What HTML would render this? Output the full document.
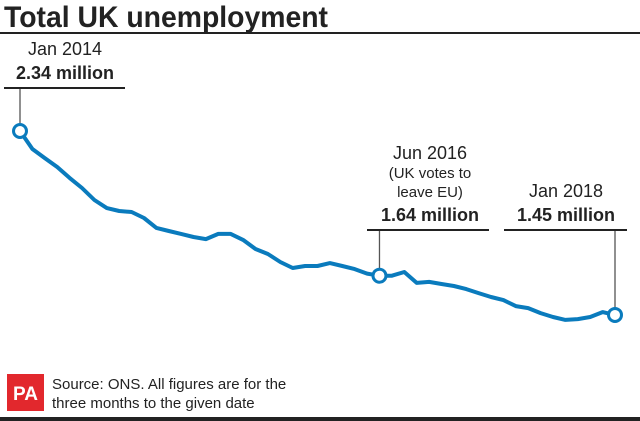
<!DOCTYPE html>
<html><head><meta charset="utf-8"><style>
html,body{margin:0;padding:0;background:#fff;}
svg{display:block;font-family:"Liberation Sans",sans-serif;}
</style></head><body>
<svg width="640" height="421" viewBox="0 0 640 421">
<text x="4" y="27" font-size="30" font-weight="bold" fill="#222" textLength="324" lengthAdjust="spacingAndGlyphs">Total UK unemployment</text>
<rect x="0" y="32" width="640" height="2" fill="#222"/>
<g id="ann" fill="#222" font-size="17" text-anchor="middle"></g>
<path id="line" fill="none" stroke="#0a7bbd" stroke-width="4" stroke-linejoin="round"/>
<g id="pts"></g>
<rect x="7" y="374" width="37" height="37" fill="#e2282d"/>
<text x="25.5" y="400" font-size="19" font-weight="bold" fill="#fff" text-anchor="middle">PA</text>
<text x="52" y="389" font-size="15" fill="#222">Source: ONS. All figures are for the</text>
<text x="52" y="408" font-size="15" fill="#222">three months to the given date</text>
<rect x="0" y="417" width="640" height="4" fill="#222"/>
</svg>
<script>
const months=["Jan 2014","Jan 2018"];
const values=[2.34,2.253,2.209,2.166,2.113,2.064,2.006,1.967,1.953,1.948,1.919,1.871,1.856,1.842,1.827,1.817,1.842,1.842,1.813,1.769,1.745,1.706,1.677,1.687,1.687,1.701,1.687,1.672,1.65,1.64,1.64,1.658,1.605,1.61,1.60,1.59,1.575,1.556,1.537,1.522,1.493,1.483,1.459,1.44,1.426,1.43,1.44,1.464,1.45];
const highlightIdx=[0,29,48];
const highlightLabels=[["Jan 2014"],["Jun 2016","(UK votes to","leave EU)"],["Jan 2018"]];
const highlightValues=["2.34 million","1.64 million","1.45 million"];
const NS="http://www.w3.org/2000/svg";
const x=i=>20+i*(595/(values.length-1));
const y=v=>131+(2.34-v)*206.7;
let d="";values.forEach((v,i)=>{d+=(i?"L":"M")+x(i).toFixed(1)+","+y(v).toFixed(1);});
document.getElementById("line").setAttribute("d",d);
const ann=document.getElementById("ann"),pts=document.getElementById("pts");
const layout=[{cx:65,ly:88,x1:4,x2:125},{cx:430,ly:230,x1:367,x2:489},{cx:566,ly:230,x1:504,x2:627}];
highlightIdx.forEach((idx,k)=>{
 const L=layout[k],px=x(idx),py=y(values[idx]);
 const vl=document.createElementNS(NS,"line");
 
 
 vl.setAttribute("x1",px);vl.setAttribute("x2",px);vl.setAttribute("y1",L.ly);vl.setAttribute("y2",py-7);
 vl.setAttribute("stroke","#555");vl.setAttribute("stroke-width","1.3");ann.appendChild(vl);
 const hl=document.createElementNS(NS,"rect");
 
 
 hl.setAttribute("x",L.x1);hl.setAttribute("y",L.ly-1);hl.setAttribute("width",L.x2-L.x1);hl.setAttribute("height",2);
 ann.appendChild(hl);
 const lines=highlightLabels[k];
 const vy=L.ly-9;
 lines.forEach((s,j)=>{
  const t=document.createElementNS(NS,"text");
  
  
  t.setAttribute("x",L.cx);t.setAttribute("y",vy-24-(lines.length-1-j)*19);
  t.setAttribute("font-size",j?"15":"18");
  t.textContent=s;ann.appendChild(t);
 });
 const tv=document.createElementNS(NS,"text");
 
 
 tv.setAttribute("x",L.cx);tv.setAttribute("y",vy);tv.setAttribute("font-weight","bold");tv.setAttribute("font-size","18");
 tv.textContent=highlightValues[k];ann.appendChild(tv);
 const c=document.createElementNS(NS,"circle");
 
 
 c.setAttribute("cx",px);c.setAttribute("cy",py);c.setAttribute("r",6.5);
 c.setAttribute("fill","#fff");c.setAttribute("stroke","#0a7bbd");c.setAttribute("stroke-width","3");
 pts.appendChild(c);
});
</script>
</body></html>
